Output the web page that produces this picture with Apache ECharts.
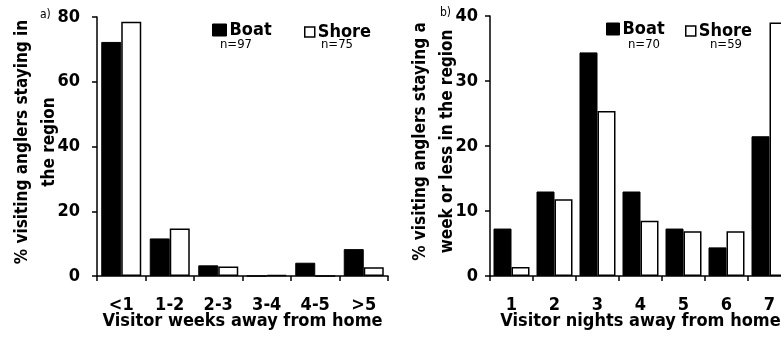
<!DOCTYPE html>
<html>
<head>
<meta charset="utf-8">
<script src="https://cdn.jsdelivr.net/npm/echarts@6/dist/echarts.min.js"></script>
<style>
  html, body { margin: 0; padding: 0; background: #fff; }
  #chart { width: 781px; height: 341px; }
</style>
</head>
<body>
<div id="chart"></div>
<script>
// Panel a) weeks away from home
const weekCategories = ['<1', '1-2', '2-3', '3-4', '4-5', '>5'];
const weekBoat = [72.3, 11.6, 3.3, 0, 4.1, 8.3];
const weekShore = [78.5, 14.7, 2.9, 0.3, 0, 2.7];
const weekTicks = [0, 20, 40, 60, 80];

// Panel b) nights away from home (stays of a week or less)
const nightCategories = ['1', '2', '3', '4', '5', '6', '7'];
const nightBoat = [7.3, 13.0, 34.4, 13.0, 7.3, 4.4, 21.5];
const nightShore = [1.4, 11.8, 25.4, 8.5, 6.9, 6.9, 39.0];
const nightTicks = [0, 10, 20, 30, 40];

const sampleSizes = { a: ['n=97', 'n=75'], b: ['n=70', 'n=59'] };

const FONT = '"DejaVu Sans Condensed", "Liberation Sans", sans-serif';
const boldText = { fontFamily: FONT, fontWeight: 'bold', fontSize: 18, color: '#000' };

function valueAxis(grid, ticks, labelMargin, name, nameGap) {
  return {
    type: 'value', gridIndex: grid,
    min: ticks[0], max: ticks[ticks.length - 1], interval: ticks[1] - ticks[0],
    name: name, nameLocation: 'middle', nameGap: nameGap, nameMoveOverlap: false,
    nameTextStyle: Object.assign({}, boldText, { fontSize: 17, lineHeight: 27, padding: [0, 0, 0, 9] }),
    axisLine: { show: true, lineStyle: { color: '#000', width: 1.5 } },
    axisTick: { show: true, length: 5, lineStyle: { color: '#000', width: 1.5 } },
    axisLabel: Object.assign({ margin: labelMargin }, boldText),
    splitLine: { show: false }
  };
}

function categoryAxis(grid, cats, name) {
  return {
    type: 'category', gridIndex: grid, data: cats,
    name: name, nameLocation: 'middle', nameGap: 36, nameMoveOverlap: false,
    nameTextStyle: boldText,
    axisLine: { lineStyle: { color: '#000', width: 1.5 } },
    axisTick: { show: true, length: 5, alignWithLabel: false, lineStyle: { color: '#000', width: 1.5 } },
    axisLabel: Object.assign({ margin: 20, interval: 0 }, boldText)
  };
}

const boatStyle = { color: '#000', borderColor: '#000', borderWidth: 1 };
const shoreStyle = { color: '#fff', borderColor: '#000', borderWidth: 1.5 };

function legendItem(name, left, top, w, h, style) {
  return {
    left: left, top: top, itemWidth: w, itemHeight: h, itemGap: 0, padding: 0,
    selectedMode: false,
    data: [{ name: name, icon: 'rect', itemStyle: style }],
    textStyle: Object.assign({}, boldText, { padding: [0, 0, 0, -2] })
  };
}

function nText(text, cx, cy) {
  return {
    type: 'text', x: cx, y: cy,
    style: { text: text, fontFamily: FONT, fontSize: 13, fill: '#000', align: 'center', verticalAlign: 'middle' }
  };
}

const chart = echarts.init(document.getElementById('chart'), null, { renderer: 'canvas' });
chart.setOption({
  backgroundColor: '#fff',
  animation: false,
  grid: [
    { left: 97, top: 17, width: 291, bottom: 65, outerBoundsMode: 'none', containLabel: false },
    { left: 490, top: 16, width: 301, bottom: 65, outerBoundsMode: 'none', containLabel: false }
  ],
  xAxis: [
    categoryAxis(0, weekCategories, 'Visitor weeks away from home'),
    categoryAxis(1, nightCategories, 'Visitor nights away from home')
  ],
  yAxis: [
    valueAxis(0, weekTicks, 17, '% visiting anglers staying in\nthe region', 34),
    valueAxis(1, nightTicks, 12, '% visiting anglers staying a\nweek or less in the region', 29)
  ],
  legend: [
    legendItem('Boat', 212, 21, 14, 12, boatStyle),
    legendItem('Shore', 304, 23, 10, 10, shoreStyle),
    legendItem('Boat', 606, 20, 13, 12, boatStyle),
    legendItem('Shore', 685, 22, 10, 10, shoreStyle)
  ],
  graphic: [
    nText(sampleSizes.a[0], 236, 45),
    nText(sampleSizes.a[1], 337, 45),
    nText(sampleSizes.b[0], 644, 45),
    nText(sampleSizes.b[1], 726, 45),
    { type: 'text', x: 40, y: 9, style: { text: 'a)', fontFamily: FONT, fontSize: 12, fill: '#000' } },
    { type: 'text', x: 440, y: 7, style: { text: 'b)', fontFamily: FONT, fontSize: 12, fill: '#000' } }
  ],
  series: [
    { name: 'Boat', type: 'bar', xAxisIndex: 0, yAxisIndex: 0, data: weekBoat,
      barWidth: 20, barGap: '0%', itemStyle: boatStyle },
    { name: 'Shore', type: 'bar', xAxisIndex: 0, yAxisIndex: 0, data: weekShore,
      barWidth: 20, barGap: '0%', itemStyle: shoreStyle },
    { name: 'Boat', type: 'bar', xAxisIndex: 1, yAxisIndex: 1, data: nightBoat,
      barWidth: 18, barGap: '0%', itemStyle: boatStyle },
    { name: 'Shore', type: 'bar', xAxisIndex: 1, yAxisIndex: 1, data: nightShore,
      barWidth: 18, barGap: '0%', itemStyle: shoreStyle }
  ]
});
</script>
</body>
</html>
